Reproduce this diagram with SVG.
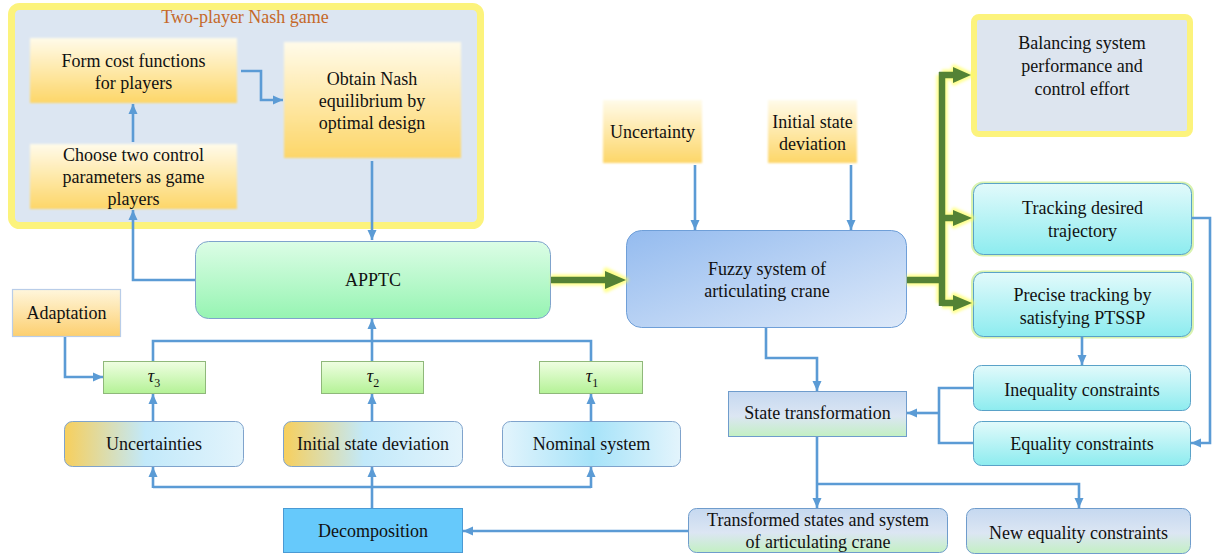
<svg xmlns="http://www.w3.org/2000/svg" width="1213" height="556" viewBox="0 0 1213 556" font-family="'Liberation Serif', 'DejaVu Serif', serif">
<defs>
<style>
text{font-family:'Liberation Serif','DejaVu Serif',serif;font-size:18px;fill:#111;text-anchor:middle}
.title{fill:#c5692a}
.c{fill:none;stroke:#5b9bd5;stroke-width:2.6}
.ca{fill:none;stroke:#5b9bd5;stroke-width:2.6;marker-end:url(#ab)}
.g{fill:none;stroke:#548235;stroke-width:6.5}
.gh{fill:#548235}
.glow{fill:none;stroke:#ffff5c;stroke-width:11;opacity:0.7;stroke-linejoin:round}
.glowh{fill:#ffff5c;stroke:#ffff5c;stroke-width:5;opacity:0.7;stroke-linejoin:round}
.bx{stroke:#7fa3cc;stroke-width:1}
</style>
<marker id="ab" viewBox="0 0 10 10" refX="10" refY="5" markerWidth="10" markerHeight="10" orient="auto" markerUnits="userSpaceOnUse">
<path d="M0,0.5 L10,5 L0,9.5 z" fill="#5b9bd5"/>
</marker>
<filter id="blur" x="-10%" y="-10%" width="120%" height="120%"><feGaussianBlur stdDeviation="1.8"/></filter>
<filter id="soft" x="-5%" y="-5%" width="110%" height="110%"><feGaussianBlur stdDeviation="1.2"/></filter>
<linearGradient id="gOr" x1="0" y1="0" x2="0" y2="1"><stop offset="0" stop-color="#fffbea"/><stop offset="1" stop-color="#fdd668"/></linearGradient>
<linearGradient id="gAd" x1="0" y1="0" x2="0" y2="1"><stop offset="0" stop-color="#fff6dc"/><stop offset="1" stop-color="#fccf6f"/></linearGradient>
<linearGradient id="gApp" x1="0" y1="0" x2="0" y2="1"><stop offset="0" stop-color="#dcfde6"/><stop offset="1" stop-color="#96f4b2"/></linearGradient>
<linearGradient id="gTau" x1="0" y1="0" x2="0" y2="1"><stop offset="0" stop-color="#effee2"/><stop offset="1" stop-color="#b4f296"/></linearGradient>
<linearGradient id="gUnc" x1="0" y1="0" x2="1" y2="0"><stop offset="0" stop-color="#f7cf5c"/><stop offset="0.45" stop-color="#c2e9fa"/><stop offset="1" stop-color="#e3f4fc"/></linearGradient>
<linearGradient id="gNom" x1="0" y1="0" x2="1" y2="0"><stop offset="0" stop-color="#e3f4fc"/><stop offset="0.5" stop-color="#a6e3f9"/><stop offset="1" stop-color="#e3f4fc"/></linearGradient>
<linearGradient id="gFz" x1="0" y1="0" x2="1" y2="1"><stop offset="0" stop-color="#94bbef"/><stop offset="1" stop-color="#dde9f9"/></linearGradient>
<linearGradient id="gCy" x1="0" y1="0" x2="0" y2="1"><stop offset="0" stop-color="#e2fafb"/><stop offset="1" stop-color="#8decef"/></linearGradient>
<linearGradient id="gSt" x1="0" y1="0" x2="0" y2="1"><stop offset="0" stop-color="#c5d8f0"/><stop offset="0.55" stop-color="#dce6f3"/><stop offset="1" stop-color="#c3f0c3"/></linearGradient>
</defs>

<g id="nash-game">
<rect x="11.5" y="6.5" width="469" height="219" rx="8" fill="#dce6f2" stroke="#fcf37c" stroke-width="7"/>
<text class="title" x="245" y="23">Two-player Nash game</text>
</g>
<g id="form-cost">
<rect x="30" y="38" width="207" height="65" fill="url(#gOr)" filter="url(#soft)"/>
<text x="133.5" y="67">Form cost functions</text>
<text x="133.5" y="89">for players</text>
</g>
<g id="obtain-nash">
<rect x="284" y="42" width="177" height="116" fill="url(#gOr)" filter="url(#soft)"/>
<text x="372" y="85">Obtain Nash</text>
<text x="372" y="107">equilibrium by</text>
<text x="372" y="129">optimal design</text>
</g>
<g id="choose-players">
<rect x="30" y="144" width="207" height="65" fill="url(#gOr)" filter="url(#soft)"/>
<text x="133.5" y="161">Choose two control</text>
<text x="133.5" y="183">parameters as game</text>
<text x="133.5" y="205">players</text>
</g>
<g id="apptc">
<rect x="195.5" y="241.5" width="355" height="77" rx="13" fill="url(#gApp)" class="bx"/>
<text x="373" y="286">APPTC</text>
</g>
<g id="adaptation">
<rect x="12.5" y="289.5" width="108" height="47" fill="url(#gAd)" stroke="#b9cde8" stroke-width="1.2"/>
<text x="66.5" y="319">Adaptation</text>
</g>
<g id="tau3">
<rect x="103.5" y="361.5" width="102" height="32" fill="url(#gTau)" stroke="#8fb87a" stroke-width="1"/>
<text x="154" y="382"><tspan font-style="italic">τ</tspan><tspan font-size="12" dy="5">3</tspan></text>
</g>
<g id="tau2">
<rect x="321.5" y="361.5" width="102" height="32" fill="url(#gTau)" stroke="#8fb87a" stroke-width="1"/>
<text x="373" y="382"><tspan font-style="italic">τ</tspan><tspan font-size="12" dy="5">2</tspan></text>
</g>
<g id="tau1">
<rect x="539.5" y="361.5" width="103" height="32" fill="url(#gTau)" stroke="#8fb87a" stroke-width="1"/>
<text x="592" y="382"><tspan font-style="italic">τ</tspan><tspan font-size="12" dy="5">1</tspan></text>
</g>
<g id="uncertainties">
<rect x="64.5" y="421.5" width="179" height="45" rx="8" fill="url(#gUnc)" class="bx"/>
<text x="154" y="450">Uncertainties</text>
</g>
<g id="initial-state-deviation-bottom">
<rect x="283.5" y="421.5" width="179" height="45" rx="8" fill="url(#gUnc)" class="bx"/>
<text x="373" y="450">Initial state deviation</text>
</g>
<g id="nominal-system">
<rect x="502.5" y="421.5" width="178" height="45" rx="8" fill="url(#gNom)" class="bx"/>
<text x="591.5" y="450">Nominal system</text>
</g>
<g id="decomposition">
<rect x="283.5" y="508.5" width="179" height="44" fill="#66c9fb" stroke="#4a9ad4" stroke-width="1"/>
<text x="373" y="537">Decomposition</text>
</g>
<g id="uncertainty">
<rect x="603" y="100" width="99" height="63" fill="url(#gOr)" filter="url(#soft)"/>
<text x="652.5" y="138">Uncertainty</text>
</g>
<g id="initial-state-deviation-top">
<rect x="768" y="100" width="89" height="63" fill="url(#gOr)" filter="url(#soft)"/>
<text x="812.5" y="128">Initial state</text>
<text x="812.5" y="150">deviation</text>
</g>
<g id="fuzzy-system">
<rect x="626.5" y="230.5" width="280" height="97" rx="15" fill="url(#gFz)" stroke="#6f9fd8" stroke-width="1"/>
<text x="767" y="275">Fuzzy system of</text>
<text x="767" y="297">articulating crane</text>
</g>
<g id="balancing">
<rect x="974" y="17" width="216" height="117" rx="5" fill="#dde5ef" stroke="#fcf37c" stroke-width="6"/>
<text x="1082" y="49">Balancing system</text>
<text x="1082" y="72">performance and</text>
<text x="1082" y="95">control effort</text>
</g>
<g id="tracking">
<rect x="973" y="183.5" width="219" height="71" rx="10" fill="none" stroke="#d8f3b0" stroke-width="4"/>
<rect x="973.5" y="183.5" width="218" height="71" rx="10" fill="url(#gCy)" stroke="#5aa2c8" stroke-width="1"/>
<text x="1082.5" y="214">Tracking desired</text>
<text x="1082.5" y="237">trajectory</text>
</g>
<g id="precise-tracking">
<rect x="973" y="272.5" width="219" height="64" rx="10" fill="none" stroke="#d8f3b0" stroke-width="4"/>
<rect x="973.5" y="272.5" width="218" height="64" rx="10" fill="url(#gCy)" stroke="#5aa2c8" stroke-width="1"/>
<text x="1082.5" y="301">Precise tracking by</text>
<text x="1082.5" y="324">satisfying PTSSP</text>
</g>
<g id="inequality">
<rect x="973.5" y="365.5" width="217" height="45" rx="8" fill="url(#gCy)" stroke="#5aa2c8" stroke-width="1"/>
<text x="1082" y="396">Inequality constraints</text>
</g>
<g id="equality">
<rect x="973.5" y="421.5" width="217" height="44" rx="8" fill="url(#gCy)" stroke="#5aa2c8" stroke-width="1"/>
<text x="1082" y="450">Equality constraints</text>
</g>
<g id="state-transformation">
<rect x="728.5" y="391.5" width="178" height="45" fill="url(#gSt)" stroke="#6f9ccc" stroke-width="1"/>
<text x="817.5" y="419">State transformation</text>
</g>
<g id="transformed-states">
<rect x="688.5" y="508.5" width="259" height="44" rx="8" fill="url(#gSt)" stroke="#6f9ccc" stroke-width="1"/>
<text x="818" y="526">Transformed states and system</text>
<text x="818" y="548">of articulating crane</text>
</g>
<g id="new-equality">
<rect x="966.5" y="508.5" width="224" height="45" rx="8" fill="url(#gSt)" stroke="#6f9ccc" stroke-width="1"/>
<text x="1078.5" y="539">New equality constraints</text>
</g>

<g id="connectors">
<path class="ca" d="M241,71 H261 V100 H283"/>
<path class="ca" d="M133,142 V104"/>
<path class="ca" d="M195,280 H133 V210"/>
<path class="ca" d="M372,161 V240"/>
<path class="ca" d="M65,337 V377 H103"/>
<path class="c" d="M153,361 V341 H591 V361"/>
<path class="ca" d="M372,361 V319"/>
<path class="ca" d="M153,421 V394"/>
<path class="ca" d="M372,421 V394"/>
<path class="ca" d="M591,421 V394"/>
<path class="ca" d="M372,508 V467"/>
<path class="c" d="M153,487 H591"/>
<path class="ca" d="M153,488 V467"/>
<path class="ca" d="M591,488 V467"/>
<path class="ca" d="M688,531 H463"/>
<path class="ca" d="M695,165 V230"/>
<path class="ca" d="M851,165 V230"/>
<path class="ca" d="M766,328 V358 H817 V391"/>
<path class="ca" d="M1192,218 H1210 V443 H1191"/>
<path class="ca" d="M1082,337 V365"/>
<path class="c" d="M973,388 H939 V443 H973"/>
<path class="ca" d="M939,413 H907"/>
<path class="ca" d="M817,437 V508"/>
<path class="ca" d="M817,484 H1079 V508"/>
<g filter="url(#blur)">
<path class="glow" d="M551,280 H612"/>
<path class="glowh" d="M606,270 L626,280 L606,290 z"/>
<path class="glow" d="M907,280 H942 M942,75 V303 M942,75 H958 M942,218 H958 M942,303 H958"/>
<path class="glowh" d="M954,67 L971,75 L954,83 z M954,210 L972,218 L954,226 z M954,295 L972,303 L954,311 z"/>
</g>
<path class="g" d="M551,280 H608"/>
<polygon class="gh" points="605,271 626,280 605,289"/>
<path class="g" d="M907,280 H942 M942,72 V306 M939,75 H956 M942,218 H956 M942,303 H956"/>
<polygon class="gh" points="953,67 971,75 953,83"/>
<polygon class="gh" points="953,210 972,218 953,226"/>
<polygon class="gh" points="953,295 972,303 953,311"/>
</g>
</svg>
